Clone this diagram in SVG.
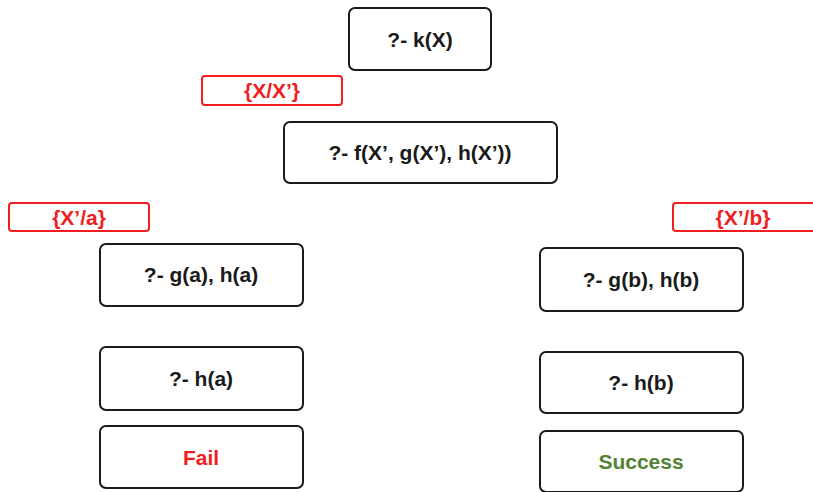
<svg xmlns="http://www.w3.org/2000/svg" width="813" height="492" viewBox="0 0 813 492">
<style>
.box{fill:#fff;stroke:#1a1a1a;stroke-width:2}
.sub{fill:#fff;stroke:#f01e1e;stroke-width:2}
.t{font-family:"Liberation Sans",Arial,sans-serif;font-weight:bold;font-size:21px;fill:#1a1a1a;text-anchor:middle;dominant-baseline:central}
.r{fill:#f01e1e}
.g{fill:#548235}
</style>
<rect width="813" height="492" fill="#fff"/>
<g id="connectors"></g>
<g id="n1"><rect class="box" x="349" y="8" width="142" height="62" rx="6"/><text class="t" x="420" y="39">?- k(X)</text></g>
<g id="s1"><rect class="sub" x="202" y="76" width="140" height="29" rx="3"/><text class="t r" x="272" y="90.5">{X/X’}</text></g>
<g id="n2"><rect class="box" x="284" y="122" width="273" height="61" rx="6"/><text class="t" x="420" y="152.5">?- f(X’, g(X’), h(X’))</text></g>
<g id="s2"><rect class="sub" x="9" y="203" width="140" height="28" rx="3"/><text class="t r" x="79" y="217">{X’/a}</text></g>
<g id="s3"><rect class="sub" x="673" y="203" width="150" height="28" rx="3"/><text class="t r" x="743" y="217">{X’/b}</text></g>
<g id="n3"><rect class="box" x="100" y="244" width="203" height="62" rx="6"/><text class="t" x="201" y="274">?- g(a), h(a)</text></g>
<g id="n4"><rect class="box" x="100" y="347" width="203" height="63" rx="6"/><text class="t" x="201" y="378">?- h(a)</text></g>
<g id="n5"><rect class="box" x="100" y="426" width="203" height="62" rx="6"/><text class="t r" x="201" y="457">Fail</text></g>
<g id="n6"><rect class="box" x="540" y="248" width="203" height="63" rx="6"/><text class="t" x="641" y="279">?- g(b), h(b)</text></g>
<g id="n7"><rect class="box" x="540" y="352" width="203" height="61" rx="6"/><text class="t" x="641" y="382">?- h(b)</text></g>
<g id="n8"><rect class="box" x="540" y="431" width="203" height="61" rx="6"/><text class="t g" x="641" y="461">Success</text></g>
</svg>
